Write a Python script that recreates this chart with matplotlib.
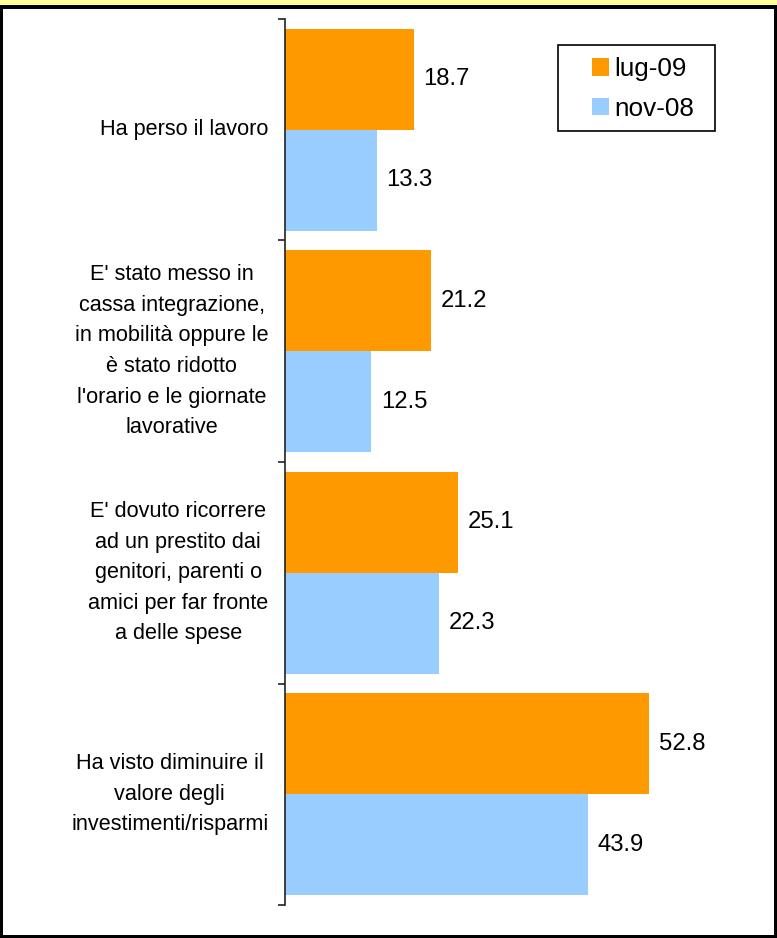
import matplotlib.pyplot as plt
from matplotlib.patches import Rectangle

plt.rcParams["font.family"] = ["Liberation Sans", "DejaVu Sans"]

CATEGORIES = [
    "Ha perso il lavoro",
    "E' stato messo in\ncassa integrazione,\nin mobilità oppure le\nè stato ridotto\nl'orario e le giornate\nlavorative",
    "E' dovuto ricorrere\nad un prestito dai\ngenitori, parenti o\namici per far fronte\na delle spese",
    "Ha visto diminuire il\nvalore degli\ninvestimenti/risparmi",
]
LUG_09 = [18.7, 21.2, 25.1, 52.8]
NOV_08 = [13.3, 12.5, 22.3, 43.9]
SERIES = [("lug-09", LUG_09, "#FF9900"), ("nov-08", NOV_08, "#99CCFF")]

W, H = 777, 938
fig = plt.figure(figsize=(W / 100, H / 100), dpi=100)


def fig_rect(x, y, w, h, **kw):
    # rectangle given in pixels, y measured from the top
    fig.patches.append(Rectangle((x / W, 1 - (y + h) / H), w / W, h / H,
                                 transform=fig.transFigure, **kw))


# frame: yellow band on top, black border
fig_rect(0, 0, W, 5, facecolor="#FFFF99", edgecolor="none", zorder=0)
fig_rect(0, 5, W, 4, facecolor="black", edgecolor="none", zorder=0)
fig_rect(0, 5, 3, H - 5, facecolor="black", edgecolor="none", zorder=0)
fig_rect(W - 3, 5, 3, H - 5, facecolor="black", edgecolor="none", zorder=0)
fig_rect(0, H - 3, W, 3, facecolor="black", edgecolor="none", zorder=0)

ax = fig.add_axes([285 / W, 33 / H, 475 / W, 886 / H])

bar_h = 0.455
n = len(CATEGORIES)
for i in range(n):
    c = i + 0.5
    for k, (name, vals, color) in enumerate(SERIES):
        y = c - bar_h / 2 if k == 0 else c + bar_h / 2
        ax.barh(y, vals[i], height=bar_h, color=color, edgecolor="none",
                label=name if i == 0 else None)
        ax.text(vals[i] + 1.4, y, f"{vals[i]:.1f}", va="center", ha="left", fontsize=17.2)
    ax.text(-2.4, c, CATEGORIES[i], ha="right", va="center", multialignment="center",
            fontsize=15.6, linespacing=1.6)

ax.set_xlim(0, 68.9)
ax.set_ylim(n, 0)
ax.set_yticks(range(n + 1))
ax.set_yticklabels([])
ax.tick_params(axis="y", length=5, width=1.2, color="#222222")
ax.set_xticks([])
for side in ["top", "right", "bottom"]:
    ax.spines[side].set_visible(False)
ax.spines["left"].set_color("#222222")
ax.spines["left"].set_linewidth(1.2)

# legend box drawn separately so the padding can differ per side
fig_rect(558, 45, 157, 86, facecolor="white", edgecolor="black", linewidth=1.2, zorder=2)
handles, labels = ax.get_legend_handles_labels()
leg = fig.legend(handles, labels, loc="upper left", bbox_to_anchor=(592 / W, 1 - 57 / H),
                 bbox_transform=fig.transFigure, fontsize=18.8, frameon=False,
                 handlelength=0.65, handleheight=0.65, handletextpad=0.22,
                 labelspacing=0.6, borderpad=0, borderaxespad=0)
leg.set_zorder(3)

plt.savefig("out.png", dpi=100)
